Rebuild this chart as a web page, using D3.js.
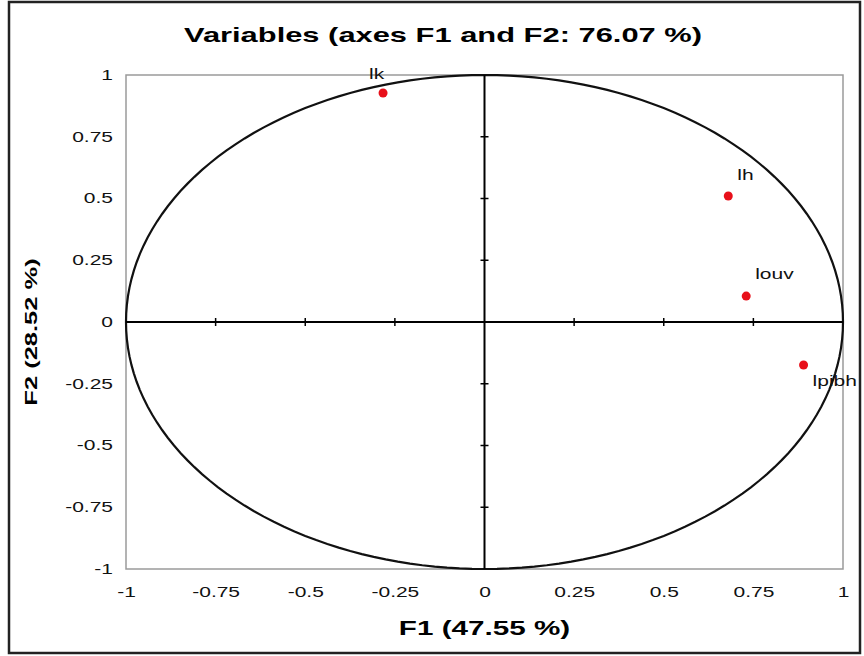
<!DOCTYPE html>
<html>
<head>
<meta charset="utf-8">
<script src="https://cdn.jsdelivr.net/npm/d3@7"></script>
<style>
  body { margin: 0; background: #fff; }
  svg { display: block; font-family: "Liberation Sans", Arial, sans-serif; }
</style>
</head>
<body>
<svg width="864" height="656"></svg>
<script>
const width = 864, height = 656;

// correlation circle data
const variables = ["lk", "lh", "louv", "lpibh"];
const f1 = [-0.283, 0.68, 0.73, 0.89];
const f2 = [0.927, 0.51, 0.105, -0.174];
const tickValues = [-1, -0.75, -0.5, -0.25, 0, 0.25, 0.5, 0.75, 1];

const title = "Variables (axes F1 and F2: 76.07 %)";
const xTitle = "F1 (47.55 %)";
const yTitle = "F2 (28.52 %)";

// label placement per variable (pixel offsets from the dot)
const labelOffset = { lk: [-14, -14], lh: [9, -16], louv: [9, -17], lpibh: [9, 21] };

const margin = { left: 126, right: 21, top: 75, bottom: 87 };
const stretch = 1.5; // text in the original is drawn wide

const svg = d3.select("svg");

// outer frame
svg.append("rect")
    .attr("x", 9).attr("y", 2)
    .attr("width", 851).attr("height", 651)
    .attr("fill", "#fff")
    .attr("stroke", "#222")
    .attr("stroke-width", 2.5);

const x = d3.scaleLinear().domain([-1, 1]).range([margin.left, width - margin.right]);
const y = d3.scaleLinear().domain([-1, 1]).range([height - margin.bottom, margin.top]);

// plot box
svg.append("rect")
    .attr("x", x(-1)).attr("y", y(1))
    .attr("width", x(1) - x(-1)).attr("height", y(-1) - y(1))
    .attr("fill", "none")
    .attr("stroke", "#9a9a9a")
    .attr("stroke-width", 1.5);

// unit circle (drawn as ellipse through the scales)
const circlePts = d3.range(0, 361, 2).map(a => [Math.cos(a * Math.PI / 180), Math.sin(a * Math.PI / 180)]);
svg.append("path")
    .datum(circlePts)
    .attr("d", d3.line().x(d => x(d[0])).y(d => y(d[1])))
    .attr("fill", "none")
    .attr("stroke", "#111")
    .attr("stroke-width", 2.2);

// zero lines
const zeroG = svg.append("g").attr("stroke", "#000").attr("stroke-width", 2);
zeroG.append("line").attr("x1", x(-1)).attr("x2", x(1)).attr("y1", y(0)).attr("y2", y(0));
zeroG.append("line").attr("x1", x(0)).attr("x2", x(0)).attr("y1", y(-1)).attr("y2", y(1));

// small cross ticks on the zero lines
const innerTicks = tickValues.filter(v => v !== 0 && Math.abs(v) !== 1);
svg.append("g").selectAll("line.xt")
    .data(innerTicks).enter().append("line")
    .attr("x1", d => x(d)).attr("x2", d => x(d))
    .attr("y1", y(0) - 4).attr("y2", y(0) + 4)
    .attr("stroke", "#000").attr("stroke-width", 1.5);
svg.append("g").selectAll("line.yt")
    .data(innerTicks).enter().append("line")
    .attr("y1", d => y(d)).attr("y2", d => y(d))
    .attr("x1", x(0) - 4).attr("x2", x(0) + 4)
    .attr("stroke", "#000").attr("stroke-width", 1.5);

// axes tick labels
const fmt = d => String(d);
const xAxis = svg.append("g")
    .attr("transform", `translate(0,${y(-1) + 28})`)
    .call(d3.axisBottom(x).tickValues(tickValues).tickFormat(fmt).tickSize(0));
xAxis.select(".domain").remove();
xAxis.selectAll("text")
    .attr("y", 0).attr("dy", null)
    .attr("font-size", 14).attr("fill", "#111")
    .attr("font-family", "Liberation Sans, Arial, sans-serif")
    .attr("transform", `scale(${stretch},1)`);

const yAxis = svg.append("g")
    .attr("transform", `translate(${x(-1) - 13},0)`)
    .call(d3.axisLeft(y).tickValues(tickValues).tickFormat(fmt).tickSize(0));
yAxis.select(".domain").remove();
yAxis.selectAll("text")
    .attr("x", 0)
    .attr("font-size", 14).attr("fill", "#111")
    .attr("font-family", "Liberation Sans, Arial, sans-serif")
    .attr("transform", `scale(${stretch},1)`);

// points
const data = variables.map((v, i) => ({ name: v, f1: f1[i], f2: f2[i] }));
svg.append("g").selectAll("circle")
    .data(data).enter().append("circle")
    .attr("cx", d => x(d.f1)).attr("cy", d => y(d.f2))
    .attr("r", 4.5)
    .attr("fill", "#e8101a");

svg.append("g").selectAll("text")
    .data(data).enter().append("text")
    .attr("transform", d => `translate(${x(d.f1) + labelOffset[d.name][0]},${y(d.f2) + labelOffset[d.name][1]}) scale(${stretch},1)`)
    .attr("font-size", 14)
    .attr("fill", "#111")
    .text(d => d.name);

// titles
svg.append("text")
    .attr("transform", `translate(443,42) scale(1.47,1)`)
    .attr("text-anchor", "middle")
    .attr("font-size", 21).attr("font-weight", "bold")
    .text(title);

svg.append("text")
    .attr("transform", `translate(${x(0)},635) scale(1.52,1)`)
    .attr("text-anchor", "middle")
    .attr("font-size", 19.5).attr("font-weight", "bold")
    .text(xTitle);

svg.append("text")
    .attr("transform", `translate(37,332) rotate(-90) scale(1.5,1)`)
    .attr("text-anchor", "middle")
    .attr("font-size", 17).attr("font-weight", "bold")
    .text(yTitle);
</script>
</body>
</html>
